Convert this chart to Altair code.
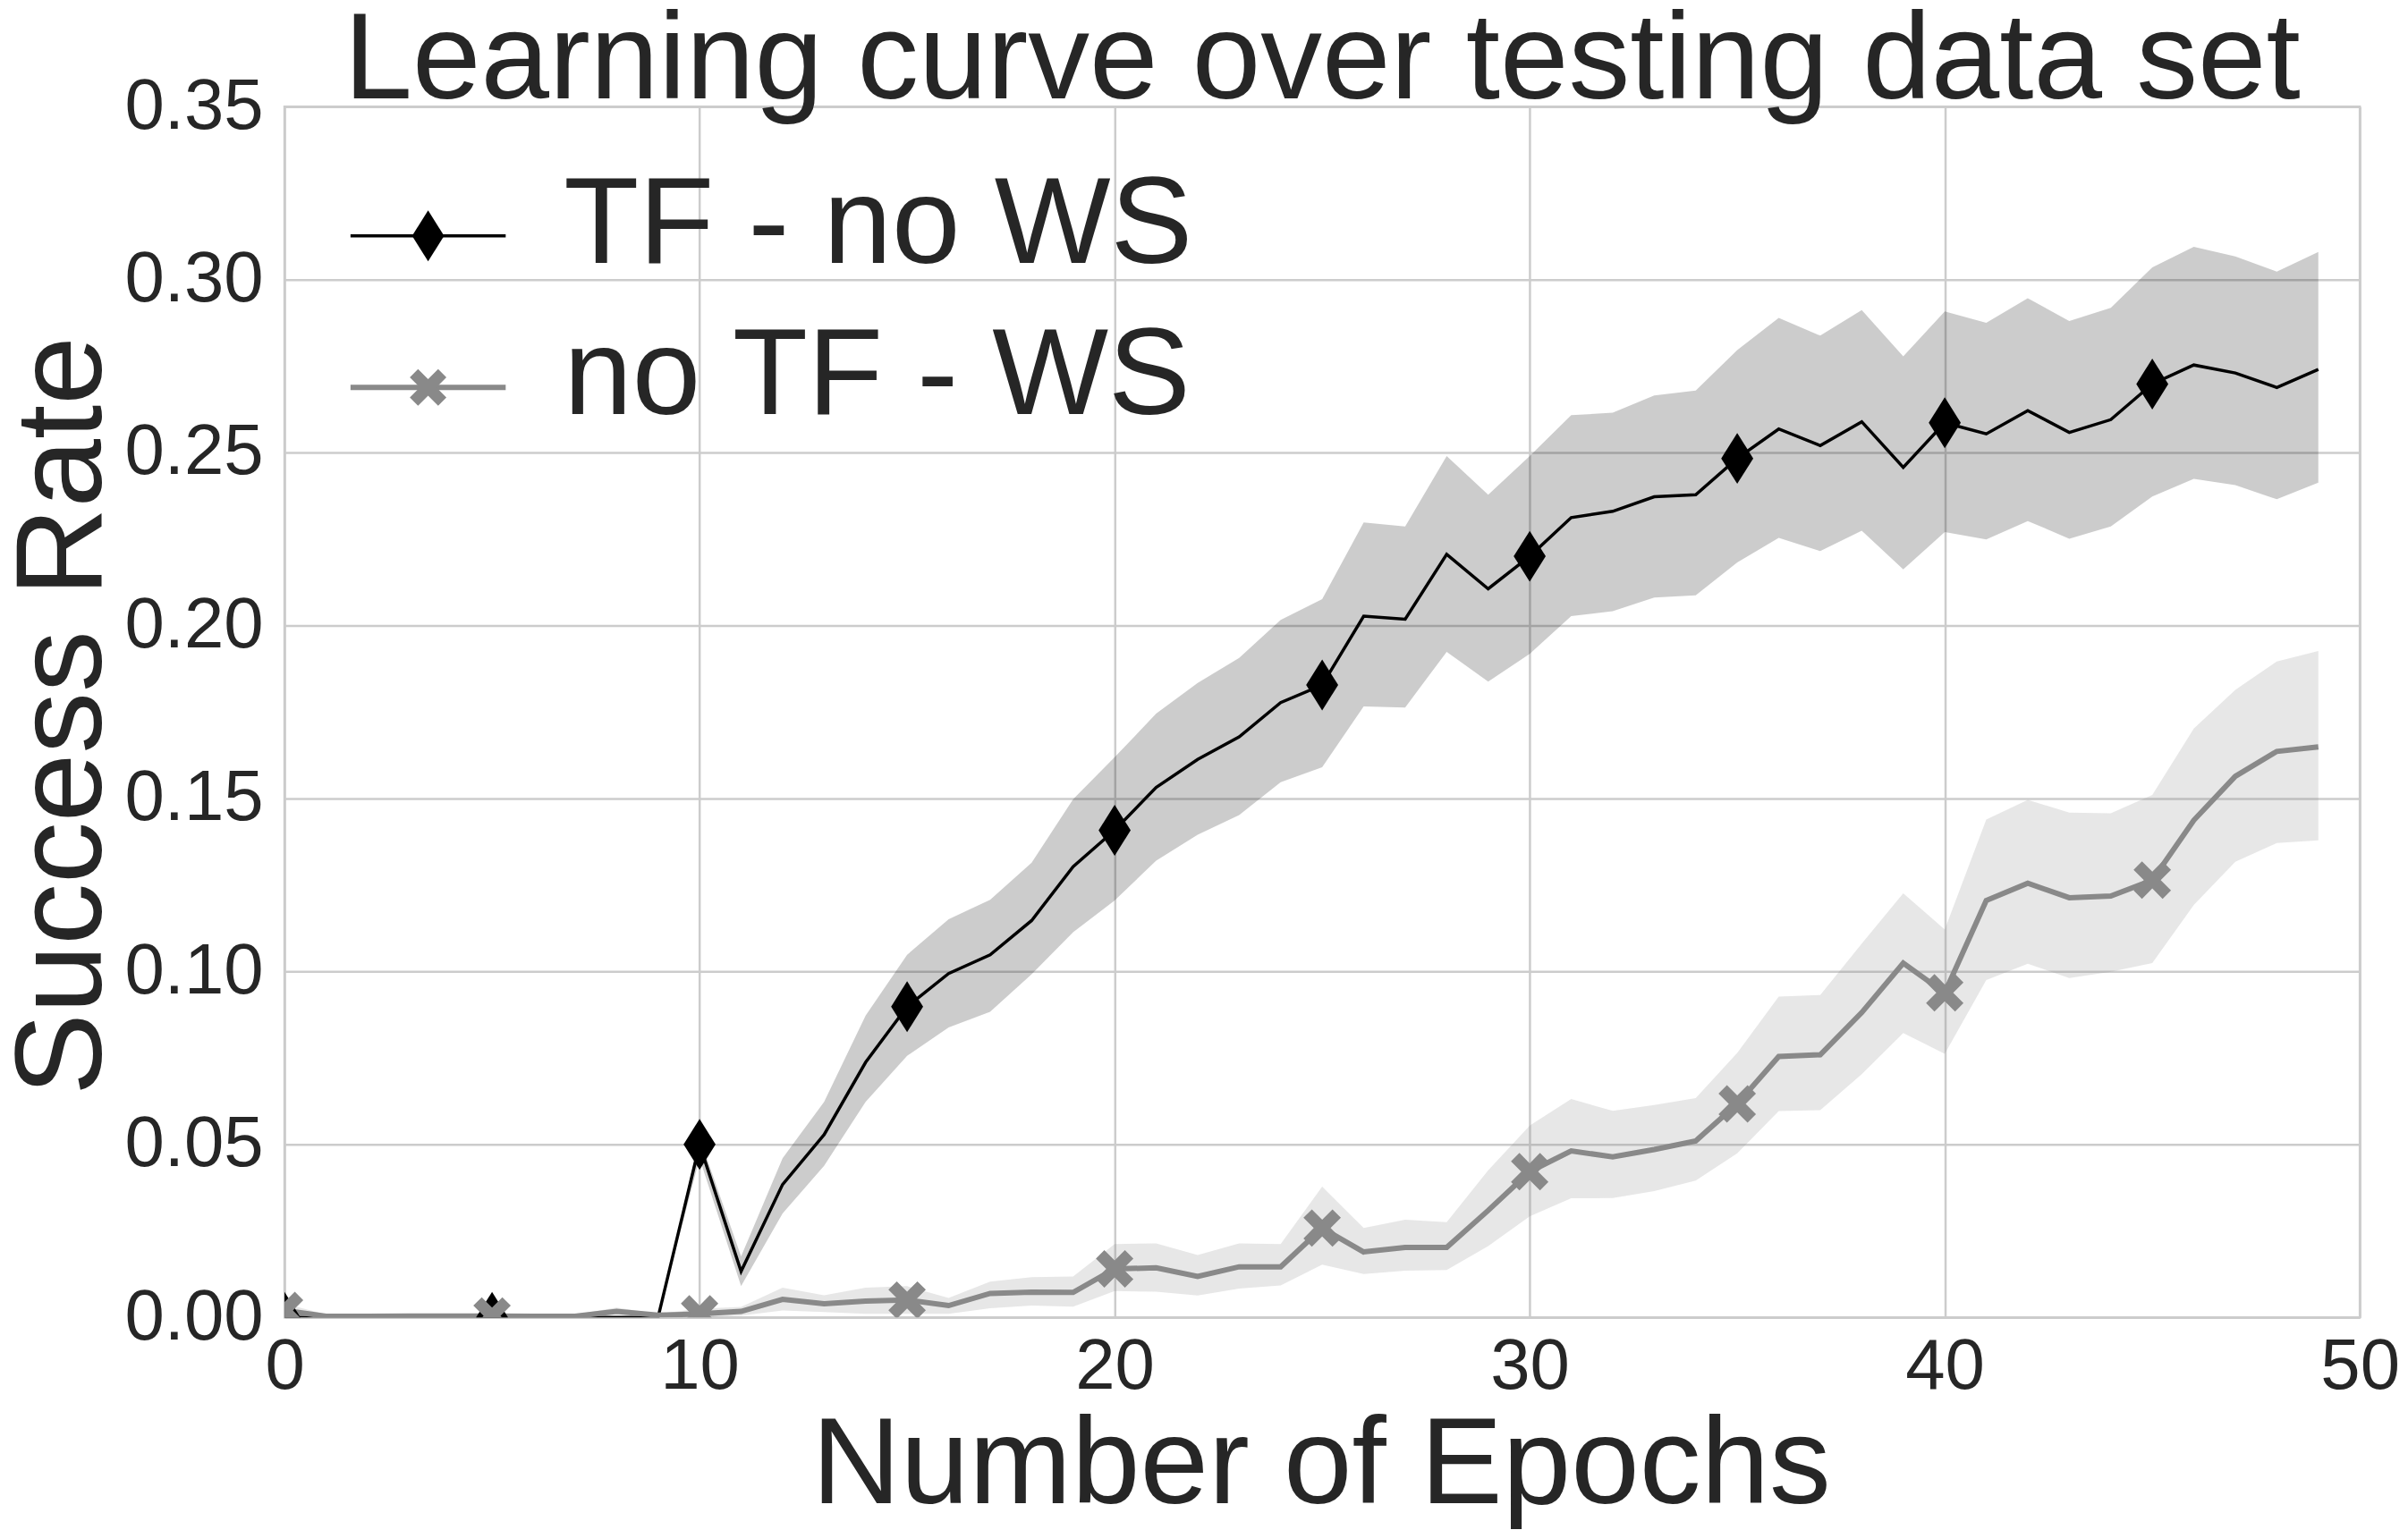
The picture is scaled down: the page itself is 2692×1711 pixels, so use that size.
import altair as alt
import pandas as pd

epochs = list(range(50))
series_names = ["TF - no WS", "no TF - WS"]
chart_title = "Learning curve over testing data set"

tf_mean = [0.0, 0.0, 0.0, 0.0, 0.0, 0.0, 0.0, 0.0, 0.0, 0.0,
           0.050, 0.0133, 0.0384, 0.0528, 0.0737, 0.0898, 0.0994, 0.1048, 0.1147, 0.1303,
           0.1408, 0.1532, 0.1613, 0.1678, 0.1777, 0.1828, 0.2027, 0.2018, 0.2206, 0.2106,
           0.2200, 0.2312, 0.2330, 0.2372, 0.2378, 0.2483, 0.2568, 0.2520, 0.2589, 0.2457,
           0.2586, 0.2554, 0.2621, 0.2558, 0.2595, 0.2698, 0.2753, 0.2730, 0.2688, 0.2740]
tf_hi = [0.0, 0.0, 0.0, 0.0, 0.0, 0.0, 0.0, 0.0, 0.0, 0.0,
         0.052, 0.0176, 0.046, 0.0623, 0.0872, 0.1048, 0.1151, 0.1207, 0.1314, 0.1498,
         0.1619, 0.1745, 0.1834, 0.1906, 0.2016, 0.2076, 0.2298, 0.2286, 0.2490, 0.2378,
         0.2490, 0.2608, 0.2615, 0.2665, 0.2679, 0.2796, 0.2889, 0.2838, 0.2912, 0.2778,
         0.2908, 0.2875, 0.2946, 0.2880, 0.2918, 0.3035, 0.3095, 0.3067, 0.3023, 0.3080]
tf_lo = [0.0, 0.0, 0.0, 0.0, 0.0, 0.0, 0.0, 0.0, 0.0, 0.0,
         0.046, 0.009, 0.030, 0.0438, 0.0623, 0.0756, 0.0838, 0.0883, 0.0992, 0.1113,
         0.1205, 0.1320, 0.1395, 0.1452, 0.1547, 0.1590, 0.1766, 0.1763, 0.1924, 0.1838,
         0.1918, 0.2027, 0.2041, 0.2081, 0.2087, 0.2182, 0.2253, 0.2215, 0.2274, 0.2162,
         0.2270, 0.2249, 0.2302, 0.2251, 0.2286, 0.2373, 0.2424, 0.2406, 0.2365, 0.2413]

ws_mean = [0.002, 0.0003, 0.0003, 0.0004, 0.0004, 0.0004, 0.0003, 0.0003, 0.0017, 0.0006,
           0.001, 0.0017, 0.0052, 0.0039, 0.0047, 0.0050, 0.0034, 0.0069, 0.0073, 0.0072,
           0.0140, 0.0143, 0.0118, 0.0146, 0.0146, 0.0258, 0.0189, 0.0202, 0.0202, 0.0309,
           0.0421, 0.0481, 0.0464, 0.0485, 0.0510, 0.0617, 0.0754, 0.0759, 0.0881, 0.1024,
           0.0938, 0.1205, 0.1255, 0.1213, 0.1218, 0.1264, 0.1437, 0.1564, 0.1636, 0.1649]
ws_hi = [0.004, 0.0008, 0.0008, 0.0008, 0.0008, 0.0008, 0.0008, 0.0008, 0.0028, 0.001,
         0.0025, 0.003, 0.0086, 0.0064, 0.0086, 0.009, 0.0056, 0.0103, 0.0116, 0.0118,
         0.0212, 0.0214, 0.0180, 0.0214, 0.0212, 0.0378, 0.0258, 0.0282, 0.0275, 0.0425,
         0.0554, 0.0631, 0.0597, 0.0614, 0.0634, 0.0764, 0.0927, 0.0932, 0.1080, 0.1226,
         0.1121, 0.1439, 0.1496, 0.1459, 0.1457, 0.1510, 0.1702, 0.1814, 0.1896, 0.1926]
ws_lo = [0.0, 0.0, 0.0, 0.0, 0.0, 0.0, 0.0, 0.0, 0.0008, 0.0002,
         0.0, 0.0005, 0.002, 0.0015, 0.001, 0.001, 0.001, 0.0026, 0.0034, 0.0031,
         0.0076, 0.0074, 0.0063, 0.0083, 0.0092, 0.0152, 0.0125, 0.0135, 0.0137, 0.0206,
         0.0292, 0.0344, 0.0345, 0.0365, 0.0395, 0.0474, 0.0596, 0.0599, 0.0703, 0.0822,
         0.0762, 0.0975, 0.1022, 0.0981, 0.0999, 0.1024, 0.1192, 0.1317, 0.1371, 0.1379]

x_ticks = [0, 10, 20, 30, 40, 50]
y_ticks = [0.0, 0.05, 0.10, 0.15, 0.20, 0.25, 0.30, 0.35]

rows = []
for name, m, lo, hi in [(series_names[0], tf_mean, tf_lo, tf_hi),
                        (series_names[1], ws_mean, ws_lo, ws_hi)]:
    for e, a, b, c in zip(epochs, m, lo, hi):
        rows.append({"series": name, "epoch": e, "mean": a, "lo": b, "hi": c})
df = pd.DataFrame(rows)
legend_df = pd.DataFrame({"series": series_names})
title_df = pd.DataFrame({"title": [chart_title]})

FONT = "Liberation Sans"
TXT = "#262626"
BLACK = "#000000"
GRAY = "#898989"
COLORS = [BLACK, GRAY]

DIAMOND = "M0,-1L0.63,0L0,1L-0.63,0Z"
B = 0.45
X_PTS = [(0, -B), (1 - B, -1), (1, -(1 - B)), (B, 0), (1, 1 - B), (1 - B, 1), (0, B),
         (-(1 - B), 1), (-1, 1 - B), (-B, 0), (-1, -(1 - B)), (-(1 - B), -1)]
XSHAPE = "M" + "L".join(f"{a:g},{b:g}" for a, b in X_PTS) + "Z"

x = alt.X("epoch:Q", scale=alt.Scale(domain=[0, 50], nice=False, zero=False),
          axis=alt.Axis(title="Number of Epochs", values=x_ticks, format="d",
                        labelFlush=False, ticks=False, tickSize=0, domain=False,
                        labelBaseline="alphabetic", labelPadding=80, labelAlign="center",
                        titleX=1162, titleY=208, titleBaseline="alphabetic", titleAlign="center"))
y = alt.Y("mean:Q", scale=alt.Scale(domain=[0, 0.35], nice=False),
          axis=alt.Axis(title="Success Rate", values=y_ticks, format=".2f",
                        ticks=False, tickSize=0, domain=False,
                        labelAlign="right", labelBaseline="middle", labelPadding=24,
                        titleX=-206, titleY=683, titleAngle=270,
                        titleBaseline="alphabetic", titleAlign="center"))

color = alt.Color("series:N", scale=alt.Scale(domain=series_names, range=COLORS), legend=None)
base = alt.Chart(df)

band = base.mark_area(opacity=0.2, clip=True).encode(
    x=x, y=alt.Y("lo:Q", scale=alt.Scale(domain=[0, 0.35], nice=False)), y2="hi:Q", color=color,
)


def only(name, extra=""):
    return f"datum.series === '{name}'" + extra


line_tf = base.mark_line(clip=True, strokeWidth=3.5, color=BLACK).encode(
    x=x, y=y).transform_filter(only(series_names[0]))
line_ws = base.mark_line(clip=True, strokeWidth=6, color=GRAY).encode(
    x=x, y=y).transform_filter(only(series_names[1]))
pts_tf = base.mark_point(filled=True, opacity=1, strokeWidth=0, clip=True,
                         shape=DIAMOND, size=3249, color=BLACK).encode(
    x=x, y=y).transform_filter(only(series_names[0], " && datum.epoch % 5 == 0"))
pts_ws = base.mark_point(filled=True, opacity=1, strokeWidth=0, clip=True,
                         shape=XSHAPE, size=1764, color=GRAY).encode(
    x=x, y=y).transform_filter(only(series_names[1], " && datum.epoch % 5 == 0"))

# legend (top-left, inside the plot): line segment + marker + label per series
leg = alt.Chart(legend_df)
leg_layers = []
for i, (name, col, sw, shp, sz) in enumerate([
        (series_names[0], BLACK, 3.5, DIAMOND, 3249),
        (series_names[1], GRAY, 6, XSHAPE, 1681)]):
    ly = 145 + 170 * i
    sel = leg.transform_filter(only(name))
    leg_layers.append(sel.mark_rule(color=col, strokeWidth=sw).encode(
        x=alt.value(74), x2=alt.value(248), y=alt.value(ly)))
    leg_layers.append(sel.mark_point(filled=True, opacity=1, strokeWidth=0, color=col,
                                     shape=shp, size=sz).encode(
        x=alt.value(161), y=alt.value(ly)))
    leg_layers.append(sel.mark_text(align="left", baseline="alphabetic", font=FONT,
                                    fontSize=138, color=TXT).encode(
        x=alt.value(313), y=alt.value(ly + 30), text="series:N"))

# chart title, centred above the plot area
title_layer = alt.Chart(title_df).mark_text(
    align="center", baseline="alphabetic", font=FONT, fontSize=138, color=TXT,
).encode(x=alt.value(1163.5), y=alt.value(-9), text="title:N")

chart = alt.layer(band, line_tf, line_ws, pts_tf, pts_ws, *leg_layers, title_layer).properties(
    width=2327, height=1358,
    background="white",
    autosize=alt.AutoSizeParams(type="none"),
    padding={"left": 311, "top": 109, "right": 46, "bottom": 236},
).configure_view(stroke="#cccccc", strokeWidth=2.5).configure_axis(
    labelFont=FONT, labelFontSize=80, labelColor=TXT,
    titleFont=FONT, titleFontSize=138, titleColor=TXT, titleFontWeight="normal",
    gridColor="#cccccc", gridWidth=2.5, gridOpacity=1,
)

chart.save("out.html", embed_options={"renderer": "svg", "actions": False})
